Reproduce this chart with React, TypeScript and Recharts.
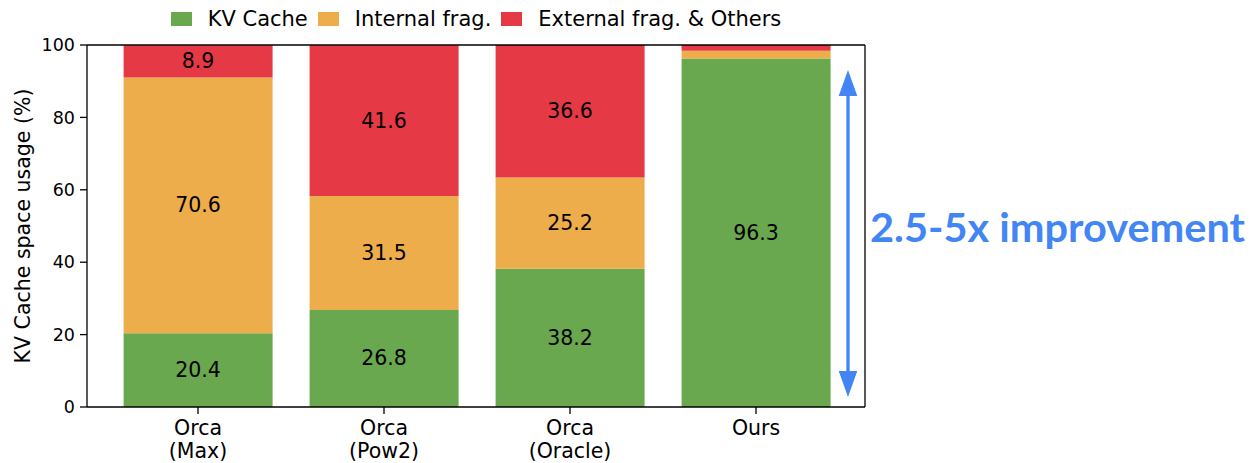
import React from "react";
import {
  BarChart,
  Bar,
  XAxis,
  YAxis,
  Legend,
  LabelList,
  Label,
} from "recharts";

// Memory usage breakdown per allocation scheme (percent of KV cache space)
const categories = ["Orca\n(Max)", "Orca\n(Pow2)", "Orca\n(Oracle)", "Ours"];
const kvCache = [20.4, 26.8, 38.2, 96.3];
const internalFrag = [70.6, 31.5, 25.2, 2.1];
const externalFrag = [8.9, 41.6, 36.6, 1.6];
const yTicks = [0, 20, 40, 60, 80, 100];

const seriesNames = ["KV Cache", "Internal frag.", "External frag. & Others"];
const COLORS = ["#6AA84F", "#EDAD4A", "#E63946"];
const BLUE = "#4285F4";
const FONT = "'DejaVu Sans', sans-serif";

const data = categories.map((name, i) => ({
  name,
  kv: kvCache[i],
  internal: internalFrag[i],
  external: externalFrag[i],
}));

const W = 1251;
const H = 463;

const CategoryTick = (props: any) => {
  const { x, y, payload } = props;
  const lines = String(payload.value).split("\n");
  return (
    <text
      x={x}
      y={y}
      textAnchor="middle"
      fontFamily={FONT}
      fontSize={20.5}
      fill="#000"
    >
      {lines.map((ln, i) => (
        <tspan key={i} x={x} dy={i === 0 ? 19 : 23}>
          {ln}
        </tspan>
      ))}
    </text>
  );
};

const SegmentLabel = (props: any) => {
  const { x, y, width, height, value } = props;
  if (value == null || Number(value) < 5) return null;
  return (
    <text
      x={x + width / 2}
      y={y + height / 2}
      textAnchor="middle"
      dominantBaseline="central"
      fontFamily={FONT}
      fontSize={20.5}
      fill="#000"
    >
      {Number(value).toFixed(1)}
    </text>
  );
};

const LegendContent = () => (
  <div
    style={{
      display: "flex",
      justifyContent: "center",
      alignItems: "center",
      height: 38,
      fontFamily: FONT,
      fontSize: 21,
      color: "#000",
      whiteSpace: "nowrap",
    }}
  >
    {seriesNames.map((s, i) => (
      <div
        key={s}
        style={{
          display: "flex",
          alignItems: "center",
          marginLeft: i === 0 ? 0 : 10,
        }}
      >
        <span
          style={{
            display: "inline-block",
            width: 21,
            height: 14,
            background: COLORS[i],
            marginRight: 16,
          }}
        />
        <span>{s}</span>
      </div>
    ))}
  </div>
);

const YAxisTitle = (props: any) => {
  const vb = props.viewBox || {};
  const cx = 23;
  const cy = (vb.y ?? 45) + (vb.height ?? 362) / 2;
  return (
    <text
      x={cx}
      y={cy}
      transform={`rotate(-90, ${cx}, ${cy})`}
      textAnchor="middle"
      dominantBaseline="central"
      fontFamily={FONT}
      fontSize={20.5}
      fill="#000"
    >
      KV Cache space usage (%)
    </text>
  );
};

export default function App() {
  const axisStroke = { stroke: "#000", strokeWidth: 1.3 };
  return (
    <div
      style={{
        position: "absolute",
        left: 0,
        top: 0,
        width: W,
        height: H,
        background: "#fff",
      }}
    >
      <BarChart
        width={W}
        height={H}
        data={data}
        margin={{ top: 44, right: 385, bottom: 0, left: 0 }}
        barCategoryGap="10%"
      >
        <XAxis
          dataKey="name"
          height={56}
          padding={{ left: 18, right: 16 }}
          axisLine={axisStroke}
          tickLine={axisStroke}
          tickSize={7}
          tickMargin={2}
          interval={0}
          tick={<CategoryTick />}
        />
        {/* frame: top spine */}
        <XAxis
          xAxisId="top"
          orientation="top"
          dataKey="name"
          height={1}
          tick={false}
          tickLine={false}
          axisLine={axisStroke}
        />
        <YAxis
          width={87}
          domain={[0, 100]}
          ticks={yTicks}
          interval={0}
          axisLine={axisStroke}
          tickLine={axisStroke}
          tickSize={7}
          tickMargin={5}
          tick={{ fontFamily: FONT, fontSize: 17.5, fill: "#000" }}
        >
          <Label content={<YAxisTitle />} />
        </YAxis>
        {/* frame: right spine */}
        <YAxis
          yAxisId="right"
          orientation="right"
          width={1}
          domain={[0, 100]}
          tick={false}
          tickLine={false}
          axisLine={axisStroke}
        />
        <Legend
          layout="horizontal"
          verticalAlign="middle"
          align="center"
          content={<LegendContent />}
          wrapperStyle={{ top: 0, left: 87, width: 778, height: 38 }}
        />
        <Bar dataKey="kv" stackId="s" fill={COLORS[0]} isAnimationActive={false}>
          <LabelList dataKey="kv" content={<SegmentLabel />} />
        </Bar>
        <Bar
          dataKey="internal"
          stackId="s"
          fill={COLORS[1]}
          isAnimationActive={false}
        >
          <LabelList dataKey="internal" content={<SegmentLabel />} />
        </Bar>
        <Bar
          dataKey="external"
          stackId="s"
          fill={COLORS[2]}
          isAnimationActive={false}
        >
          <LabelList dataKey="external" content={<SegmentLabel />} />
        </Bar>
      </BarChart>
      {/* improvement annotation: double-headed arrow and caption */}
      <svg
        width={W}
        height={H}
        style={{ position: "absolute", left: 0, top: 0, pointerEvents: "none" }}
      >
        <line x1={848} y1={94} x2={848} y2={374} stroke={BLUE} strokeWidth={3.3} />
        <polygon points="848,70 838.7,96 857.3,96" fill={BLUE} />
        <polygon points="848,397 838.7,371 857.3,371" fill={BLUE} />
        <text
          x={870}
          y={241.5}
          fontFamily="Lato, 'Open Sans', sans-serif"
          fontWeight={700}
          fontSize={40}
          fill={BLUE}
          textLength={375}
          lengthAdjust="spacingAndGlyphs"
        >
          2.5-5x improvement
        </text>
      </svg>
    </div>
  );
}
